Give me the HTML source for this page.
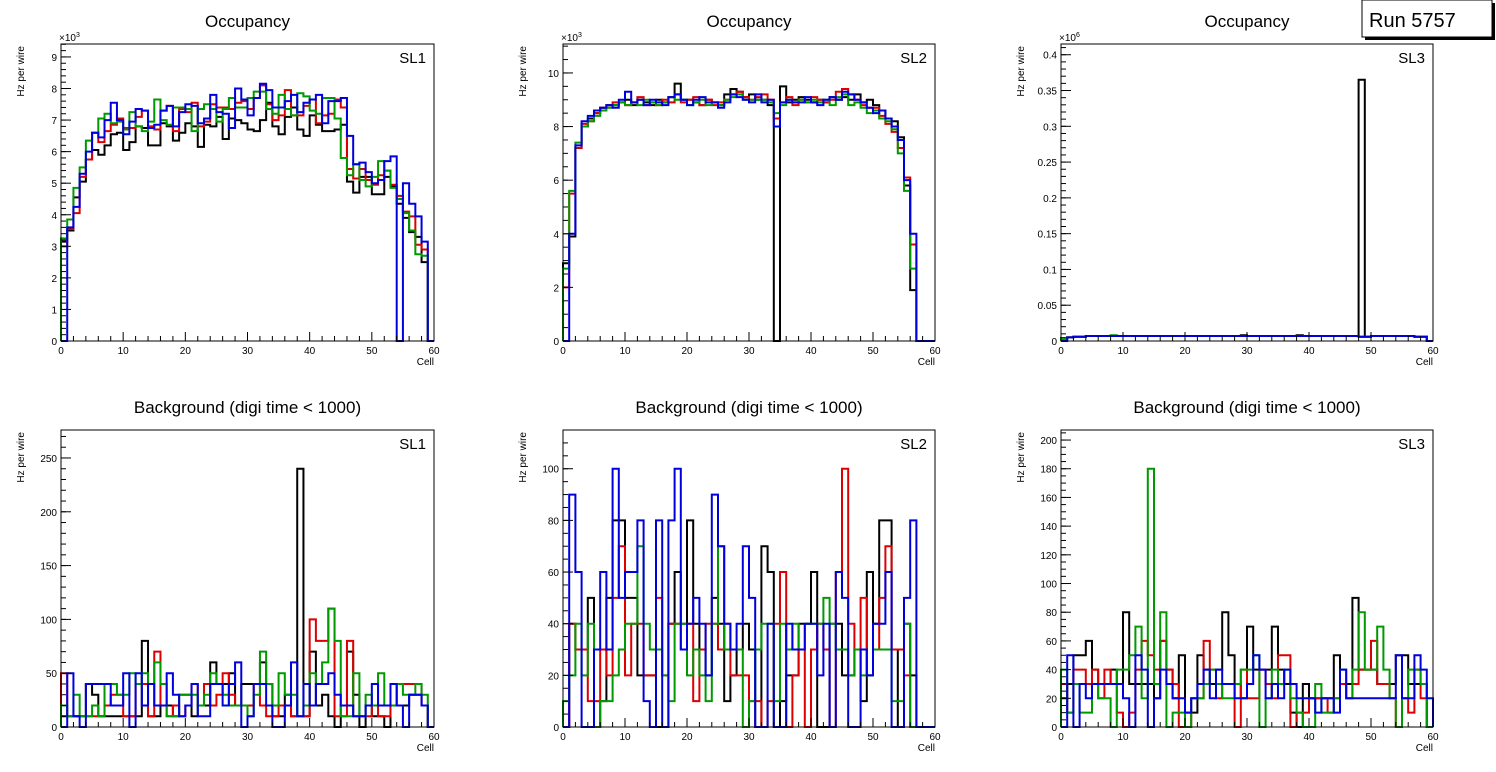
<!DOCTYPE html>
<html><head><meta charset="utf-8"><style>
body{margin:0;background:#fff;width:1496px;height:772px;overflow:hidden;font-family:"Liberation Sans",sans-serif}
svg{display:block}
</style></head><body>
<svg id="c" width="1496" height="772" xmlns="http://www.w3.org/2000/svg" font-family="Liberation Sans, sans-serif"></svg>
<script>
const colors=["#000000","#dd0000","#009900","#0000dd"];
// Panel 1 SL1 occupancy (x10^3)
const p1Black=[3.15,3.5,4.55,5.05,5.75,6.05,5.9,6.2,6.55,6.6,6.05,6.3,6.8,6.75,6.2,6.2,6.9,6.8,6.35,6.6,6.9,6.8,6.15,6.85,6.8,7.1,6.4,7.05,7.0,6.9,6.7,6.65,7.0,7.55,6.8,6.55,7.1,7.4,6.7,6.5,7.15,6.85,6.65,6.65,6.7,6.85,5.05,4.7,5.2,5.2,4.65,4.65,5.2,4.9,4.35,3.9,3.45,3.3,2.5,0];
const p1Red=[3.0,3.55,4.05,5.2,5.75,6.6,6.3,6.65,6.85,7.05,6.75,6.75,7.1,7.3,6.8,6.7,7.3,7.45,6.65,7.35,7.25,7.55,6.8,6.95,7.5,7.4,7.4,7.35,7.55,7.6,7.35,7.7,8.1,7.5,7.0,7.15,7.95,7.15,7.15,7.45,7.65,6.9,7.15,7.2,7.65,7.4,5.45,5.15,5.45,5.1,4.95,5.25,5.4,4.95,4.6,4.1,3.95,3.05,2.9,0];
const p1Green=[3.25,3.85,4.85,5.5,6.35,6.6,7.05,7.2,6.9,6.95,6.7,7.25,6.8,6.65,6.95,7.65,7.0,6.85,7.4,7.4,7.35,6.65,7.35,7.5,7.35,6.95,7.35,7.7,7.4,7.4,7.7,7.9,7.9,7.35,7.2,7.8,7.35,7.15,7.85,7.75,7.3,7.2,7.7,7.7,7.05,5.8,5.25,5.6,5.1,4.9,5.2,5.7,5.4,4.85,4.5,4.05,3.5,2.75,2.7,0];
const p1Blue=[0,3.6,4.25,5.3,6.0,6.6,6.45,7.0,7.55,7.0,6.55,6.95,7.35,7.3,6.75,6.85,7.3,7.45,6.8,7.25,7.5,7.45,6.9,7.05,7.8,7.25,7.2,6.75,8.0,7.65,7.15,7.7,8.15,7.95,7.4,7.4,7.6,7.8,7.25,7.55,7.65,7.8,6.9,7.6,7.6,7.7,6.5,5.6,5.65,5.35,5.0,5.1,5.7,5.85,0,5.0,4.35,3.95,3.15,0];
// Panel 2 SL2 occupancy (x10^3)
const p2Black=[2.9,3.9,7.2,8.0,8.3,8.5,8.7,8.8,8.8,8.9,9.0,8.8,9.0,8.9,8.8,9.0,8.9,9.1,9.6,9.0,9.0,8.9,8.8,9.0,8.9,8.8,9.2,9.4,9.3,9.1,9.2,9.0,9.0,8.8,0,9.5,8.9,9.0,9.1,9.0,8.9,9.0,8.9,9.1,9.0,9.1,9.0,9.2,8.9,9.0,8.8,8.6,8.3,8.2,7.6,5.8,1.9,0,0,0];
const p2Red=[2.0,5.5,7.2,8.1,8.2,8.5,8.7,8.8,8.9,8.9,8.8,8.9,9.1,8.8,8.9,8.8,9.0,8.9,9.2,8.9,9.0,9.1,8.8,9.0,8.8,8.9,9.0,9.2,9.3,9.1,9.0,9.1,9.2,9.0,8.3,8.9,9.1,8.8,9.0,8.9,9.1,9.0,8.9,9.0,9.3,9.4,9.2,9.0,8.8,8.7,8.7,8.4,8.1,7.8,7.2,6.1,3.6,0,0,0];
const p2Green=[2.7,5.6,7.4,8.0,8.2,8.4,8.6,8.7,8.8,8.9,8.8,8.9,8.8,9.0,8.9,8.8,8.9,9.1,9.0,9.0,8.8,8.9,9.0,8.8,8.9,8.8,9.0,9.1,9.2,9.0,9.0,9.0,9.0,8.9,8.5,8.8,9.0,8.9,9.0,8.9,9.0,8.9,9.0,8.8,9.1,9.2,8.8,8.9,8.7,8.5,8.6,8.3,8.2,7.9,7.0,5.6,2.7,0,0,0];
const p2Blue=[0,4.0,7.3,8.2,8.4,8.6,8.7,8.8,8.7,9.0,9.3,8.9,9.0,8.8,9.0,8.9,8.8,9.1,9.2,9.0,8.8,9.0,9.1,8.9,8.9,8.7,8.9,9.2,9.1,9.0,8.9,9.2,8.9,9.0,8.0,8.9,9.0,8.9,8.9,9.1,8.9,8.8,9.0,9.1,9.0,9.3,9.2,9.0,8.9,8.7,8.5,8.6,8.3,8.0,7.5,6.0,4.0,0,0,0];
// Panel 3 SL3 occupancy (x10^6)
const p3Black=[0.004,0.005,0.006,0.006,0.007,0.007,0.007,0.007,0.007,0.007,0.007,0.007,0.007,0.007,0.007,0.007,0.007,0.007,0.007,0.007,0.007,0.007,0.007,0.007,0.007,0.007,0.007,0.007,0.007,0.008,0.007,0.007,0.007,0.007,0.007,0.007,0.007,0.007,0.008,0.007,0.007,0.007,0.007,0.007,0.007,0.007,0.007,0.007,0.365,0.006,0.007,0.007,0.007,0.007,0.007,0.007,0.007,0.006,0.006,0];
const p3Red=[0.003,0.005,0.006,0.006,0.007,0.007,0.007,0.007,0.007,0.007,0.007,0.007,0.007,0.007,0.007,0.007,0.007,0.007,0.007,0.007,0.007,0.007,0.007,0.007,0.007,0.007,0.007,0.007,0.007,0.007,0.007,0.007,0.007,0.007,0.007,0.007,0.007,0.007,0.007,0.007,0.007,0.007,0.007,0.007,0.007,0.007,0.007,0.007,0.006,0.006,0.007,0.007,0.007,0.007,0.007,0.007,0.007,0.006,0.006,0];
const p3Green=[0.003,0.005,0.006,0.006,0.007,0.007,0.007,0.007,0.008,0.007,0.007,0.007,0.007,0.007,0.007,0.007,0.007,0.007,0.007,0.007,0.007,0.007,0.007,0.007,0.007,0.007,0.007,0.007,0.007,0.007,0.007,0.007,0.007,0.007,0.007,0.007,0.007,0.007,0.007,0.007,0.007,0.007,0.007,0.007,0.007,0.007,0.007,0.007,0.006,0.006,0.007,0.007,0.007,0.007,0.007,0.007,0.007,0.006,0.006,0];
const p3Blue=[0,0.005,0.006,0.006,0.007,0.007,0.007,0.007,0.007,0.007,0.007,0.007,0.007,0.007,0.007,0.007,0.007,0.007,0.007,0.007,0.007,0.007,0.007,0.007,0.007,0.007,0.007,0.007,0.007,0.007,0.007,0.007,0.007,0.007,0.007,0.007,0.007,0.007,0.007,0.007,0.007,0.007,0.007,0.007,0.007,0.007,0.007,0.007,0.006,0.006,0.007,0.007,0.007,0.007,0.007,0.007,0.007,0.006,0.006,0];
// Panel 4 SL1 background
const p4Black=[10,10,10,10,40,30,10,10,10,10,10,10,10,80,10,10,20,20,10,30,30,10,20,20,60,40,40,50,20,40,40,40,60,40,10,10,30,10,240,10,70,20,30,10,0,20,70,30,0,20,10,10,0,20,20,20,30,30,20,0];
const p4Red=[50,10,10,10,10,10,10,20,30,30,10,10,40,40,10,70,20,10,20,10,20,40,20,40,20,30,50,30,20,20,20,40,20,10,10,20,20,10,10,10,100,80,80,110,10,10,80,10,10,10,20,10,10,20,40,40,40,40,20,0];
const p4Green=[20,10,30,10,10,20,10,40,40,30,30,50,40,50,40,60,40,10,10,30,30,30,20,30,50,40,30,20,20,20,10,30,70,40,20,50,30,30,10,20,50,40,60,110,80,10,10,50,10,30,20,50,20,20,40,30,30,40,30,0];
const p4Blue=[0,50,10,0,40,40,40,40,20,20,50,0,50,20,40,20,20,50,30,10,20,40,10,10,40,40,20,40,60,0,10,40,40,20,0,0,20,60,10,40,20,40,40,50,30,20,20,10,10,20,40,20,20,40,20,0,30,30,20,0];
// Panel 5 SL2 background
const p5Black=[0,40,30,30,50,0,10,50,80,80,50,50,20,20,20,0,0,40,60,40,80,40,30,20,50,40,10,20,30,40,30,0,70,60,0,10,20,20,40,40,60,0,0,40,40,20,20,30,10,60,40,80,80,30,0,40,20,0,0,0];
const p5Red=[0,40,30,30,10,10,30,20,50,70,20,40,40,20,20,50,20,40,40,30,40,10,30,40,40,30,40,20,20,20,10,10,0,10,40,60,0,20,30,0,30,40,30,0,60,100,40,30,50,20,30,50,70,30,30,20,0,0,0,0];
const p5Green=[10,20,40,20,40,0,10,10,20,30,40,40,70,40,30,30,20,10,40,40,20,30,20,10,40,70,30,30,30,0,10,30,40,40,10,40,30,40,30,40,40,40,50,40,30,30,20,30,20,20,30,30,30,10,10,40,0,0,0,0];
const p5Blue=[0,90,60,0,0,30,60,30,100,50,60,60,80,10,0,80,0,80,100,30,40,50,40,20,90,70,40,30,40,70,50,0,0,40,0,0,40,30,30,40,40,20,40,0,60,50,0,0,30,20,40,40,60,0,0,50,80,0,0,0];
// Panel 6 SL3 background
const p6Black=[20,30,50,50,60,40,30,30,40,30,80,30,30,30,30,20,60,40,20,50,10,10,50,40,30,40,80,50,30,20,70,40,40,40,70,40,30,10,0,30,20,20,20,20,50,30,30,90,40,40,40,30,30,30,50,50,30,30,30,0];
const p6Red=[30,10,40,40,30,40,20,40,30,10,0,10,40,60,50,40,60,40,30,0,0,20,20,60,40,20,30,30,0,40,20,20,40,30,20,50,50,0,10,10,20,20,20,10,20,30,20,30,40,40,60,30,30,20,0,20,10,40,20,0];
const p6Green=[40,10,30,10,10,30,20,20,0,40,40,50,70,20,180,30,80,0,10,10,0,20,20,30,40,30,20,20,30,40,40,50,0,20,40,30,40,20,10,0,0,30,10,10,20,40,20,40,80,40,40,70,40,20,0,20,40,40,30,0];
const p6Blue=[0,50,0,30,20,30,30,30,30,30,20,0,50,40,0,20,40,30,20,20,10,20,30,40,20,40,30,30,20,20,30,50,40,20,30,20,40,30,20,20,20,10,20,20,10,40,20,20,20,20,20,20,20,20,50,20,20,50,40,20];
const xTicks=[0,10,20,30,40,50,60];
const p1Ticks=[0,1,2,3,4,5,6,7,8,9];
const p2Ticks=[0,2,4,6,8,10];
const p3Ticks=[0,0.05,0.1,0.15,0.2,0.25,0.3,0.35,0.4];
const p4Ticks=[0,50,100,150,200,250];
const p5Ticks=[0,20,40,60,80,100];
const p6Ticks=[0,20,40,60,80,100,120,140,160,180,200];

const svg=document.getElementById('c');
const NS='http://www.w3.org/2000/svg';
function mk(tag,attrs,parent){const e=document.createElementNS(NS,tag);for(const k in attrs)e.setAttribute(k,attrs[k]);(parent||svg).appendChild(e);return e;}

const panels=[
 {x0:61,x1:434,y0:44,y1:341,ymax:9.41,ticks:p1Ticks,minor:0.2,title:"Occupancy",sl:"SL1",exp:"3",series:[p1Black,p1Red,p1Green,p1Blue]},
 {x0:563,x1:935,y0:44,y1:341,ymax:11.08,ticks:p2Ticks,minor:0.5,title:"Occupancy",sl:"SL2",exp:"3",series:[p2Black,p2Red,p2Green,p2Blue]},
 {x0:1061,x1:1433,y0:44,y1:341,ymax:0.415,ticks:p3Ticks,minor:0.01,title:"Occupancy",sl:"SL3",exp:"6",series:[p3Black,p3Red,p3Green,p3Blue]},
 {x0:61,x1:434,y0:430,y1:727,ymax:276,ticks:p4Ticks,minor:10,title:"Background (digi time < 1000)",sl:"SL1",series:[p4Black,p4Red,p4Green,p4Blue]},
 {x0:563,x1:935,y0:430,y1:727,ymax:115,ticks:p5Ticks,minor:5,title:"Background (digi time < 1000)",sl:"SL2",series:[p5Black,p5Red,p5Green,p5Blue]},
 {x0:1061,x1:1433,y0:430,y1:727,ymax:207,ticks:p6Ticks,minor:5,title:"Background (digi time < 1000)",sl:"SL3",series:[p6Black,p6Red,p6Green,p6Blue]}
];
const names=['black','red','green','blue'];
panels.forEach((p,pi)=>{
 const g=mk('g',{});
 
 
 const xs=v=>p.x0+(p.x1-p.x0)*v/60;
 const ys=v=>p.y1-(p.y1-p.y0)*Math.min(v,p.ymax)/p.ymax;
 const cx=(p.x0+p.x1)/2;
 const t=mk('text',{x:cx,y:p.y0-17,'text-anchor':'middle','font-size':17,fill:'#000'},g);t.textContent=p.title;
 
 const yl=mk('text',{x:0,y:0,'text-anchor':'end','font-size':10,transform:`translate(${p.x0-37},${p.y0+2}) rotate(-90)`},g);yl.textContent='Hz per wire';
 
 const xl=mk('text',{x:p.x1,y:p.y1+24,'text-anchor':'end','font-size':10},g);xl.textContent='Cell';
 
 if(p.exp){const e=mk('text',{x:p.x0-2,y:p.y0-3,'font-size':10},g);e.innerHTML='×10<tspan dy="-4" font-size="7">'+p.exp+'</tspan>';
  }
 const sl=mk('text',{x:p.x1-8,y:p.y0+19,'text-anchor':'end','font-size':15},g);sl.textContent=p.sl;
 
 p.series.forEach((s,si)=>{
  let d='M'+xs(0)+','+ys(0);
  for(let i=0;i<s.length;i++){d+=' V'+ys(s[i])+' H'+xs(i+1);}
  d+=' V'+ys(0);
  const path=mk('path',{d:d,fill:'none',stroke:colors[si],'stroke-width':2},g);
  
  
 });
 const fr=mk('rect',{x:p.x0,y:p.y0,width:p.x1-p.x0,height:p.y1-p.y0,fill:'none',stroke:'#000','stroke-width':1},g);
 
 for(let v=0;v<=60;v+=2){const x=xs(v);const L=(v%10===0)?9:5;mk('line',{x1:x,x2:x,y1:p.y1,y2:p.y1-L,stroke:'#000'},g);}
 xTicks.forEach(v=>{const tt=mk('text',{x:xs(v),y:p.y1+13,'text-anchor':'middle','font-size':10},g);tt.textContent=v;
  });
 for(let v=0;v<=p.ymax+1e-9;v+=p.minor){mk('line',{x1:p.x0,x2:p.x0+5,y1:ys(v),y2:ys(v),stroke:'#000'},g);}
 p.ticks.forEach(v=>{if(v>p.ymax)return;const y=ys(v);mk('line',{x1:p.x0,x2:p.x0+10,y1:y,y2:y,stroke:'#000'},g);
  const tt=mk('text',{x:p.x0-4,y:y+4,'text-anchor':'end','font-size':10},g);tt.textContent=String(v);
  });
});
const rg=mk('g',{});


mk('rect',{x:1365,y:3,width:130,height:37,fill:'#000'},rg);
mk('rect',{x:1362,y:0,width:130,height:37,fill:'#fff',stroke:'#000'},rg);
const rt=mk('text',{x:1369,y:27,'font-size':20},rg);rt.textContent='Run 5757';
</script>
</body></html>
